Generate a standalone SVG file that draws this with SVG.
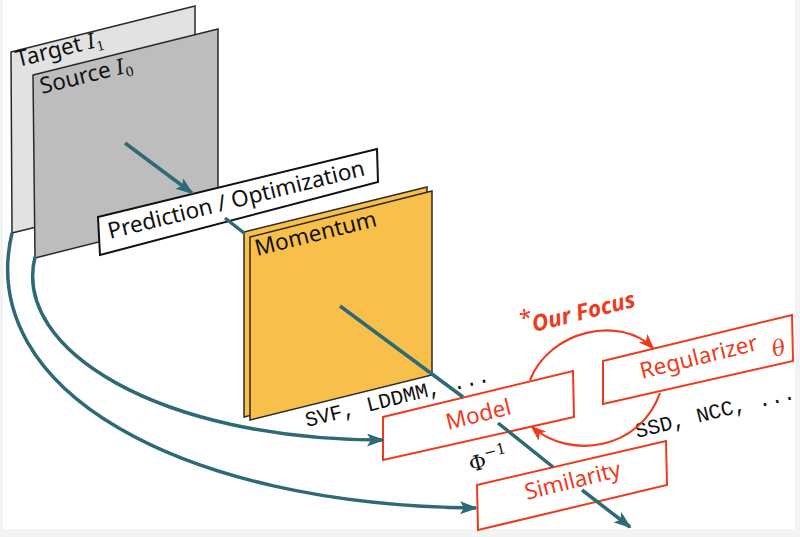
<svg xmlns="http://www.w3.org/2000/svg" width="800" height="537" viewBox="0 0 800 537">
<style>
.pl{stroke:#2a2a2a;stroke-width:1.5;stroke-linejoin:miter}
.bx{fill:#fff;stroke:#111;stroke-width:2}
.rb{fill:#fff;stroke:#ef3b1d;stroke-width:2}
.sans{font-family:"Noto Sans","Open Sans","DejaVu Sans",sans-serif;font-size:22.5px;fill:#111}
.mono{font-family:"Liberation Mono","Courier New",monospace;font-size:21px;fill:#111}
.math{font-family:"DejaVu Serif","Liberation Serif",serif;font-style:italic}
.red{fill:#ef3b1d}
.tl{fill:none;stroke:#2d6a76;stroke-width:3.5}
.ra{fill:none;stroke:#ef3b1d;stroke-width:2.2}
</style>
<defs>
<marker id="ta" viewBox="0 0 18 13" refX="16" refY="6.5" markerWidth="18" markerHeight="13" orient="auto" markerUnits="userSpaceOnUse"><path d="M0,0 L18,6.5 L0,13 L4,6.5 z" fill="#2d6a76"/></marker>
<marker id="ra" viewBox="0 0 16 12" refX="14" refY="6" markerWidth="16" markerHeight="12" orient="auto" markerUnits="userSpaceOnUse"><path d="M0,0 L16,6 L0,12 L4,6 z" fill="#ef3b1d"/></marker>
</defs>
<rect x="0" y="0" width="800" height="537" fill="#f3f3f3"/>
<rect x="3" y="0" width="792" height="529" fill="#ffffff"/>

<g id="target">
<polygon class="pl" points="11,52 195,6 195,188 12,233" fill="#e2e2e2"/>
<text class="sans" x="18" y="67" transform="rotate(-14 18 67)">Target <tspan class="math" font-size="21">I</tspan><tspan font-family="DejaVu Serif" font-size="13" dy="4">1</tspan></text>
</g>
<g id="source">
<polygon class="pl" points="33,75 218,29 218,212 35,258" fill="#bdbdbd"/>
<text class="sans" x="42" y="94" transform="rotate(-14 42 94)">Source <tspan class="math" font-size="21">I</tspan><tspan font-family="DejaVu Serif" font-size="13" dy="4">0</tspan></text>
</g>
<g id="prediction">
<polygon class="bx" points="98,217 377,149 378,182 100,255"/>
<text class="sans" x="110" y="239" transform="rotate(-14 110 239)">Prediction / Optimization</text>
</g>
<g id="momentum">
<polygon class="pl" points="244,232 427,187 427,372 244,417" fill="#f8c04a"/>
<polygon class="pl" points="250,237 432,191 432,375 250,420" fill="#f8c04a"/>
<text class="sans" x="257" y="256" transform="rotate(-14 257 256)">Momentum</text>
</g>
<g id="model">
<polygon class="rb" points="383,417 573,371 574,417 383,460"/>
<text class="sans red" x="448" y="430" transform="rotate(-14 448 430)">Model</text>
</g>
<g id="regularizer">
<polygon class="rb" points="603,361 792,315 793,361 603,404"/>
<text class="sans red" x="642" y="379" transform="rotate(-14 642 379)">Regularizer</text>
<text class="math red" font-size="22" x="774" y="357" transform="rotate(-14 774 357)">θ</text>
</g>
<g id="similarity">
<polygon class="rb" points="477,485 666,441 667,485 478,530"/>
<text class="sans red" x="527" y="500" transform="rotate(-14 527 500)">Similarity</text>
</g>
<g id="labels">
<text class="sans red" font-size="16" x="522" y="327" transform="rotate(-14 522 327)">*</text>
<text class="sans red" font-weight="bold" font-style="italic" font-size="22" x="534" y="332" transform="rotate(-14 534 332)">Our Focus</text>
<text class="mono" x="307" y="427" transform="rotate(-14 307 427)">SVF, LDDMM, ...</text>
<text class="mono" x="637" y="438" transform="rotate(-14 637 438)">SSD, NCC, ...</text>
<text font-family="DejaVu Serif" fill="#111" font-size="21" x="471" y="472" transform="rotate(-14 471 472)">Φ<tspan font-size="15" dy="-10">−1</tspan></text>
</g>
<g id="connectors">
<path class="tl" d="M125,143 L192,193" marker-end="url(#ta)"/>
<path class="tl" d="M225,218 L244,233"/>
<path class="tl" d="M340,306 L463,397"/>
<path class="tl" d="M498,423 L553,467"/>
<path class="tl" d="M582,490 L630,527" marker-end="url(#ta)"/>
<path class="tl" d="M12,233 C-25,390 180,505 476,508" marker-end="url(#ta)"/>
<path class="tl" d="M35,257 C12,350 160,440 383,440" marker-end="url(#ta)"/>
<path class="ra" d="M530,380 C550,330 620,315 653,348" marker-end="url(#ra)"/>
<path class="ra" d="M660,393 C640,450 570,460 532,427" marker-end="url(#ra)"/>
</g>
</svg>
